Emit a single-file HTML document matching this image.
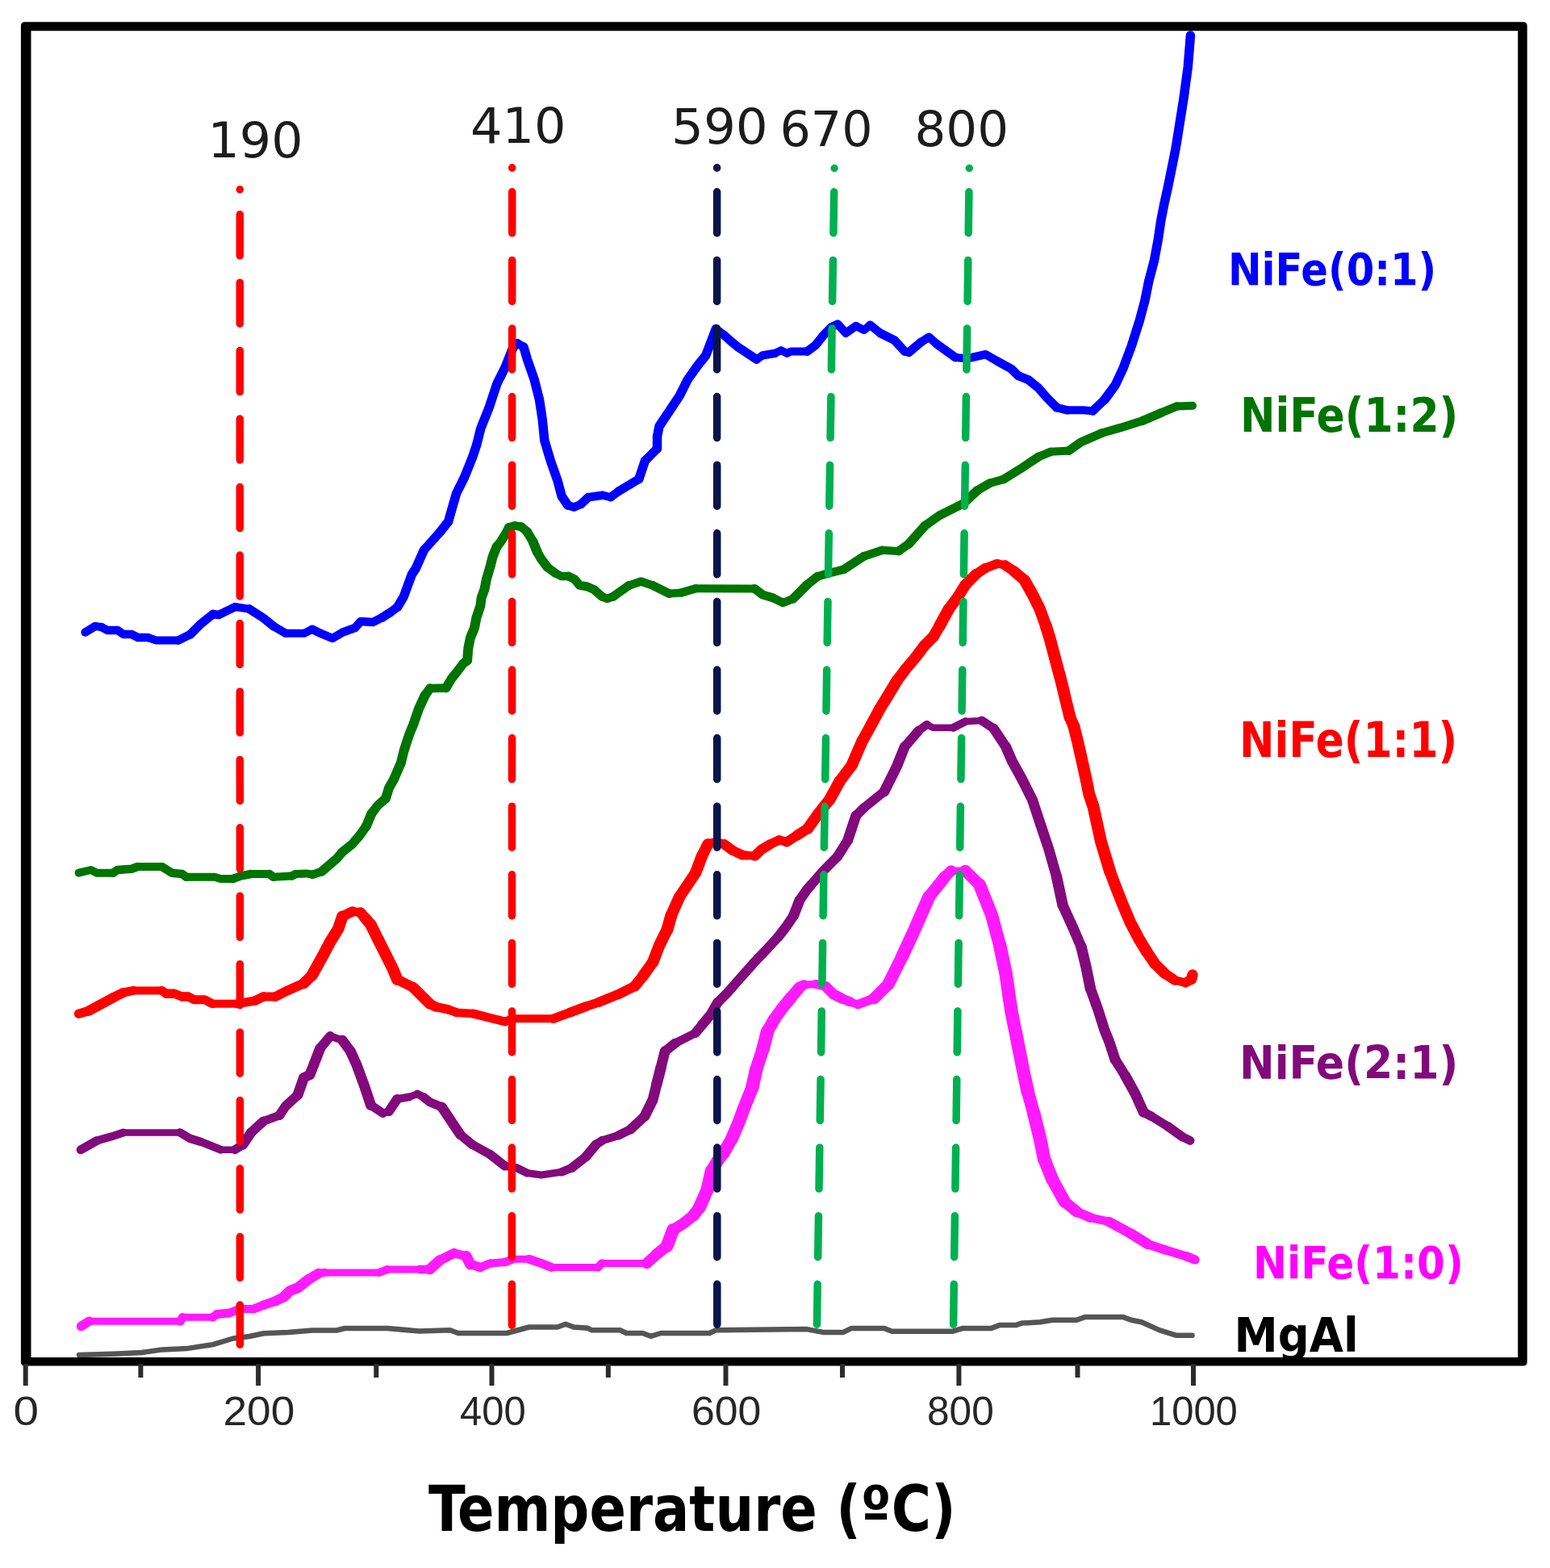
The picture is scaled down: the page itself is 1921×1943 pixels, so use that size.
<!DOCTYPE html>
<html><head><meta charset="utf-8"><title>TPR profiles</title>
<style>
html,body{margin:0;padding:0;background:#fff;}
body{width:1921px;height:1943px;overflow:hidden;}
svg{display:block;}
.tk{font-family:"Liberation Sans",Arial,sans-serif;}
.pk{font-family:"DejaVu Sans",sans-serif;font-stretch:condensed;}
.lg{font-family:"DejaVu Sans",sans-serif;font-stretch:condensed;font-weight:bold;}
.ti{font-family:"DejaVu Sans",sans-serif;font-stretch:condensed;font-weight:bold;}
</style></head><body>
<svg xmlns="http://www.w3.org/2000/svg" width="1921" height="1943" viewBox="0 0 1921 1943">
<rect width="1921" height="1943" fill="#fff"/>
<polyline points="98.0,1679.0 145.8,1677.4 175.9,1676.0 201.0,1672.4 231.2,1671.1 263.9,1666.1 289.0,1658.5 309.0,1656.0 326.7,1652.3 356.9,1651.0 387.0,1648.5 417.2,1648.5 427.2,1646.0 480.0,1646.0 520.0,1649.5 557.7,1648.3 567.8,1652.0 628.1,1652.0 655.7,1644.5 690.9,1644.5 701.0,1640.7 711.0,1644.5 728.6,1645.8 733.6,1648.3 768.8,1648.3 776.3,1652.0 796.5,1652.0 806.5,1655.8 819.1,1652.0 879.4,1652.0 886.9,1648.3 1000.0,1647.1 1020.1,1650.9 1045.2,1650.9 1055.3,1645.9 1095.5,1645.9 1105.6,1649.7 1181.0,1649.7 1193.5,1645.9 1228.7,1645.9 1238.8,1642.1 1258.9,1642.1 1266.4,1639.6 1289.0,1638.3 1304.1,1635.8 1334.3,1635.8 1344.3,1632.1 1392.1,1632.1 1402.1,1635.8 1414.7,1638.3 1437.3,1648.4 1457.4,1654.7 1477.5,1654.7" fill="none" stroke="#555555" stroke-width="6.5" stroke-linejoin="round" stroke-linecap="round"/>
<g fill="none" stroke="#ff1aff" stroke-linejoin="round" stroke-linecap="round">
<polyline points="100.5,1643.5 110.6,1637.2" stroke-width="11.5"/>
<polyline points="110.6,1637.2 223.7,1637.2" stroke-width="9.0"/>
<polyline points="223.7,1637.2 226.2,1632.2" stroke-width="10.5"/>
<polyline points="226.2,1632.2 263.9,1632.2" stroke-width="9.0"/>
<polyline points="263.9,1632.2 268.9,1628.4" stroke-width="10.5"/>
<polyline points="268.9,1628.4 284.0,1627.1" stroke-width="11.0"/>
<polyline points="284.0,1627.1 296.5,1622.1" stroke-width="10.5"/>
<polyline points="296.5,1622.1 314.1,1622.1" stroke-width="10.0"/>
<polyline points="314.1,1622.1 326.7,1617.1" stroke-width="11.0"/>
<polyline points="326.7,1617.1 341.8,1612.0" stroke-width="11.5"/>
<polyline points="341.8,1612.0 351.8,1607.0" stroke-width="12.5"/>
<polyline points="351.8,1607.0 359.4,1599.5 369.4,1595.7 382.0,1585.7" stroke-width="13.0"/>
<polyline points="382.0,1585.7 394.6,1578.1" stroke-width="12.5"/>
<polyline points="394.6,1578.1 402.1,1576.9" stroke-width="10.5"/>
<polyline points="402.1,1576.9 470.0,1576.9" stroke-width="9.0"/>
<polyline points="470.0,1576.9 480.0,1573.0" stroke-width="10.0"/>
<polyline points="480.0,1573.0 520.0,1572.9" stroke-width="9.0"/>
<polyline points="520.0,1572.9 532.6,1572.9" stroke-width="10.5"/>
<polyline points="532.6,1572.9 545.1,1561.6" stroke-width="13.0"/>
<polyline points="545.1,1561.6 562.7,1552.8" stroke-width="12.0"/>
<polyline points="562.7,1552.8 577.8,1556.6" stroke-width="11.0"/>
<polyline points="577.8,1556.6 582.8,1566.6" stroke-width="13.5"/>
<polyline points="582.8,1566.6 595.4,1570.4" stroke-width="11.5"/>
<polyline points="595.4,1570.4 608.0,1565.4" stroke-width="10.5"/>
<polyline points="608.0,1565.4 625.6,1564.1" stroke-width="10.0"/>
<polyline points="625.6,1564.1 635.6,1560.3" stroke-width="10.5"/>
<polyline points="635.6,1560.3 655.7,1560.3" stroke-width="9.0"/>
<polyline points="655.7,1560.3 670.8,1565.4 683.4,1570.4" stroke-width="11.0"/>
<polyline points="683.4,1570.4 741.2,1570.4" stroke-width="9.0"/>
<polyline points="741.2,1570.4 746.2,1565.4" stroke-width="10.5"/>
<polyline points="746.2,1565.4 801.5,1565.4" stroke-width="9.0"/>
<polyline points="801.5,1565.4 814.0,1554.0" stroke-width="13.5"/>
<polyline points="814.0,1554.0 826.6,1544.0" stroke-width="14.0"/>
<polyline points="826.6,1544.0 834.2,1523.9" stroke-width="16.0"/>
<polyline points="834.2,1523.9 846.7,1516.3 859.3,1506.3" stroke-width="14.0"/>
<polyline points="859.3,1506.3 866.8,1496.2" stroke-width="15.0"/>
<polyline points="866.8,1496.2 876.9,1473.6" stroke-width="16.0"/>
<polyline points="876.9,1473.6 881.9,1451.0" stroke-width="16.5"/>
<polyline points="881.9,1451.0 889.4,1438.4" stroke-width="15.5"/>
<polyline points="889.4,1438.4 897.0,1428.4" stroke-width="15.0"/>
<polyline points="897.0,1428.4 907.0,1410.8" stroke-width="15.5"/>
<polyline points="907.0,1410.8 914.6,1393.2 922.1,1373.1 932.2,1348.0" stroke-width="16.0"/>
<polyline points="932.2,1348.0 937.2,1325.3" stroke-width="16.5"/>
<polyline points="937.2,1325.3 945.5,1300.0" stroke-width="16.0"/>
<polyline points="945.5,1300.0 951.1,1278.0" stroke-width="16.5"/>
<polyline points="951.1,1278.0 959.5,1263.4" stroke-width="15.5"/>
<polyline points="959.5,1263.4 970.0,1248.7 980.4,1236.1" stroke-width="15.0"/>
<polyline points="980.4,1236.1 990.9,1223.6" stroke-width="14.5"/>
<polyline points="990.9,1223.6 996.1,1220.4" stroke-width="12.5"/>
<polyline points="996.1,1220.4 1010.8,1219.4" stroke-width="9.5"/>
<polyline points="1010.8,1219.4 1023.4,1222.5" stroke-width="11.0"/>
<polyline points="1023.4,1222.5 1032.8,1231.9 1043.2,1237.2" stroke-width="13.0"/>
<polyline points="1043.2,1237.2 1053.7,1241.4" stroke-width="12.0"/>
<polyline points="1053.7,1241.4 1063.3,1244.7" stroke-width="10.0"/>
<polyline points="1063.3,1244.7 1083.4,1237.2" stroke-width="11.5"/>
<polyline points="1083.4,1237.2 1101.0,1219.6" stroke-width="14.5"/>
<polyline points="1101.0,1219.6 1118.5,1184.4" stroke-width="15.5"/>
<polyline points="1118.5,1184.4 1133.6,1151.7 1151.2,1111.5" stroke-width="16.0"/>
<polyline points="1151.2,1111.5 1171.3,1086.4" stroke-width="15.0"/>
<polyline points="1171.3,1086.4 1178.9,1078.9" stroke-width="13.5"/>
<polyline points="1178.9,1078.9 1196.4,1078.9" stroke-width="9.0"/>
<polyline points="1196.4,1078.9 1214.0,1096.4" stroke-width="14.5"/>
<polyline points="1214.0,1096.4 1229.1,1134.1 1239.2,1171.8" stroke-width="16.0"/>
<polyline points="1239.2,1171.8 1246.7,1207.0 1251.0,1237.0 1253.8,1255.1 1258.9,1280.2 1263.9,1305.3 1268.9,1330.5 1273.9,1353.1" stroke-width="16.5"/>
<polyline points="1273.9,1353.1 1281.5,1380.7" stroke-width="16.0"/>
<polyline points="1281.5,1380.7 1289.0,1410.9 1294.0,1436.0" stroke-width="16.5"/>
<polyline points="1294.0,1436.0 1304.1,1461.2" stroke-width="16.0"/>
<polyline points="1304.1,1461.2 1319.2,1488.8" stroke-width="15.5"/>
<polyline points="1319.2,1488.8 1334.3,1501.4" stroke-width="14.0"/>
<polyline points="1334.3,1501.4 1351.8,1508.9" stroke-width="12.0"/>
<polyline points="1351.8,1508.9 1374.5,1513.9" stroke-width="10.5"/>
<polyline points="1374.5,1513.9 1402.1,1529.0" stroke-width="12.5"/>
<polyline points="1402.1,1529.0 1422.2,1541.6" stroke-width="13.0"/>
<polyline points="1422.2,1541.6 1444.8,1549.1" stroke-width="11.5"/>
<polyline points="1444.8,1549.1 1470.0,1556.7" stroke-width="11.0"/>
<polyline points="1470.0,1556.7 1481.0,1561.0" stroke-width="11.5"/>
</g>
<g fill="none" stroke="#820a7c" stroke-linejoin="round" stroke-linecap="round">
<polyline points="100.1,1424.7 120.2,1413.4" stroke-width="11.0"/>
<polyline points="120.2,1413.4 137.8,1408.4 152.9,1403.4" stroke-width="10.0"/>
<polyline points="152.9,1403.4 223.3,1403.4" stroke-width="8.5"/>
<polyline points="223.3,1403.4 235.8,1410.9 248.4,1414.7" stroke-width="10.5"/>
<polyline points="248.4,1414.7 261.0,1419.7 273.5,1424.7" stroke-width="10.0"/>
<polyline points="273.5,1424.7 291.1,1424.7" stroke-width="8.5"/>
<polyline points="291.1,1424.7 301.2,1418.4" stroke-width="11.0"/>
<polyline points="301.2,1418.4 311.2,1403.4" stroke-width="12.5"/>
<polyline points="311.2,1403.4 326.3,1389.5" stroke-width="12.0"/>
<polyline points="326.3,1389.5 346.4,1382.0" stroke-width="10.5"/>
<polyline points="346.4,1382.0 353.9,1370.7 369.0,1356.9" stroke-width="12.0"/>
<polyline points="369.0,1356.9 376.5,1335.5" stroke-width="13.0"/>
<polyline points="376.5,1335.5 384.1,1331.7" stroke-width="12.5"/>
<polyline points="384.1,1331.7 396.7,1299.1" stroke-width="13.0"/>
<polyline points="396.7,1299.1 409.2,1284.0" stroke-width="12.0"/>
<polyline points="409.2,1284.0 424.3,1289.0" stroke-width="9.5"/>
<polyline points="424.3,1289.0 434.4,1302.8" stroke-width="12.5"/>
<polyline points="434.4,1302.8 441.9,1319.2 452.0,1346.8 459.5,1369.4" stroke-width="13.0"/>
<polyline points="459.5,1369.4 474.6,1379.5" stroke-width="11.0"/>
<polyline points="474.6,1379.5 482.1,1377.0" stroke-width="9.5"/>
<polyline points="482.1,1377.0 492.2,1361.9" stroke-width="12.0"/>
<polyline points="492.2,1361.9 507.2,1359.4" stroke-width="10.0"/>
<polyline points="507.2,1359.4 517.3,1355.6" stroke-width="9.0"/>
<polyline points="517.3,1355.6 524.8,1359.4" stroke-width="10.0"/>
<polyline points="524.8,1359.4 532.6,1365.6 547.6,1371.8" stroke-width="11.0"/>
<polyline points="547.6,1371.8 560.2,1390.7 570.3,1405.8" stroke-width="12.5"/>
<polyline points="570.3,1405.8 585.3,1418.3" stroke-width="11.5"/>
<polyline points="585.3,1418.3 608.0,1430.9" stroke-width="11.0"/>
<polyline points="608.0,1430.9 625.6,1444.7" stroke-width="11.5"/>
<polyline points="625.6,1444.7 640.6,1447.2 653.2,1453.5" stroke-width="10.0"/>
<polyline points="653.2,1453.5 670.8,1456.0 695.9,1452.3" stroke-width="9.0"/>
<polyline points="695.9,1452.3 708.5,1447.2" stroke-width="10.5"/>
<polyline points="708.5,1447.2 726.1,1433.4" stroke-width="11.5"/>
<polyline points="726.1,1433.4 738.6,1418.3" stroke-width="12.0"/>
<polyline points="738.6,1418.3 746.2,1413.3" stroke-width="11.0"/>
<polyline points="746.2,1413.3 766.3,1407.0" stroke-width="10.0"/>
<polyline points="766.3,1407.0 781.4,1399.5" stroke-width="11.0"/>
<polyline points="781.4,1399.5 799.0,1383.1" stroke-width="12.0"/>
<polyline points="799.0,1383.1 809.0,1363.0 814.0,1342.9" stroke-width="13.0"/>
<polyline points="814.0,1342.9 819.1,1322.8" stroke-width="13.5"/>
<polyline points="819.1,1322.8 824.1,1302.7" stroke-width="13.0"/>
<polyline points="824.1,1302.7 836.7,1292.7" stroke-width="12.0"/>
<polyline points="836.7,1292.7 861.8,1280.1" stroke-width="10.5"/>
<polyline points="861.8,1280.1 870.5,1269.6" stroke-width="12.0"/>
<polyline points="870.5,1269.6 880.9,1257.1 889.3,1242.4" stroke-width="12.5"/>
<polyline points="889.3,1242.4 901.9,1229.8 916.5,1213.1 933.3,1194.2 952.1,1174.3 964.7,1160.7" stroke-width="12.0"/>
<polyline points="964.7,1160.7 975.2,1147.1 983.6,1134.6" stroke-width="12.5"/>
<polyline points="983.6,1134.6 990.9,1115.7" stroke-width="13.0"/>
<polyline points="990.9,1115.7 1000.3,1102.1 1005.4,1096.4" stroke-width="12.5"/>
<polyline points="1005.4,1096.4 1020.5,1078.9 1038.1,1061.3" stroke-width="12.0"/>
<polyline points="1038.1,1061.3 1050.7,1041.2" stroke-width="12.5"/>
<polyline points="1050.7,1041.2 1060.7,1011.0" stroke-width="13.0"/>
<polyline points="1060.7,1011.0 1070.8,1001.0" stroke-width="12.0"/>
<polyline points="1070.8,1001.0 1095.9,980.8" stroke-width="11.5"/>
<polyline points="1095.9,980.8 1111.0,950.7 1121.1,925.6" stroke-width="13.0"/>
<polyline points="1121.1,925.6 1138.6,905.4" stroke-width="12.0"/>
<polyline points="1138.6,905.4 1148.7,897.9" stroke-width="10.5"/>
<polyline points="1148.7,897.9 1156.2,901.7 1181.4,901.7" stroke-width="8.5"/>
<polyline points="1181.4,901.7 1196.4,894.1" stroke-width="10.0"/>
<polyline points="1196.4,894.1 1216.6,892.9" stroke-width="8.5"/>
<polyline points="1216.6,892.9 1231.6,902.9" stroke-width="11.0"/>
<polyline points="1231.6,902.9 1246.7,925.6" stroke-width="12.5"/>
<polyline points="1246.7,925.6 1254.3,943.1 1266.8,965.8 1279.4,990.9 1289.4,1021.1 1299.5,1051.2 1309.5,1086.4" stroke-width="13.0"/>
<polyline points="1309.5,1086.4 1317.1,1121.6" stroke-width="13.5"/>
<polyline points="1317.1,1121.6 1330.0,1150.0 1340.0,1173.2" stroke-width="13.0"/>
<polyline points="1340.0,1173.2 1346.2,1199.0 1351.4,1224.9" stroke-width="13.5"/>
<polyline points="1351.4,1224.9 1360.7,1250.8 1369.0,1276.7 1374.5,1290.3 1382.0,1312.9" stroke-width="13.0"/>
<polyline points="1382.0,1312.9 1394.6,1333.0" stroke-width="12.5"/>
<polyline points="1394.6,1333.0 1407.1,1355.6 1417.2,1378.2" stroke-width="13.0"/>
<polyline points="1417.2,1378.2 1427.2,1383.3" stroke-width="11.5"/>
<polyline points="1427.2,1383.3 1447.3,1395.8" stroke-width="11.0"/>
<polyline points="1447.3,1395.8 1464.9,1408.4" stroke-width="11.5"/>
<polyline points="1464.9,1408.4 1475.0,1413.4" stroke-width="11.0"/>
</g>
<g fill="none" stroke="#ff0000" stroke-linejoin="round" stroke-linecap="round">
<polyline points="97.6,1256.3 110.2,1252.6" stroke-width="11.5"/>
<polyline points="110.2,1252.6 140.3,1236.2" stroke-width="12.5"/>
<polyline points="140.3,1236.2 152.9,1230.0" stroke-width="12.0"/>
<polyline points="152.9,1230.0 165.4,1227.4" stroke-width="11.0"/>
<polyline points="165.4,1227.4 200.6,1227.4" stroke-width="10.0"/>
<polyline points="200.6,1227.4 205.7,1231.2" stroke-width="11.0"/>
<polyline points="205.7,1231.2 215.7,1231.2" stroke-width="11.5"/>
<polyline points="215.7,1231.2 225.8,1235.0" stroke-width="11.0"/>
<polyline points="225.8,1235.0 233.3,1235.0" stroke-width="11.5"/>
<polyline points="233.3,1235.0 240.8,1238.7 253.4,1238.7 263.5,1243.8" stroke-width="11.0"/>
<polyline points="263.5,1243.8 293.6,1243.8" stroke-width="10.0"/>
<polyline points="293.6,1243.8 316.2,1240.0" stroke-width="11.0"/>
<polyline points="316.2,1240.0 326.3,1235.0" stroke-width="11.5"/>
<polyline points="326.3,1235.0 341.4,1235.0" stroke-width="11.0"/>
<polyline points="341.4,1235.0 356.4,1227.4 376.5,1218.6" stroke-width="12.0"/>
<polyline points="376.5,1218.6 386.6,1208.6" stroke-width="13.5"/>
<polyline points="386.6,1208.6 399.2,1186.0 409.2,1167.1 419.3,1150.8 424.3,1135.7" stroke-width="14.5"/>
<polyline points="424.3,1135.7 436.9,1129.4" stroke-width="12.5"/>
<polyline points="436.9,1129.4 446.9,1130.7" stroke-width="11.0"/>
<polyline points="446.9,1130.7 452.0,1137.0" stroke-width="13.0"/>
<polyline points="452.0,1137.0 459.5,1145.8" stroke-width="14.0"/>
<polyline points="459.5,1145.8 469.5,1165.9 477.1,1181.0 487.1,1201.0 492.2,1213.6" stroke-width="14.5"/>
<polyline points="492.2,1213.6 512.3,1223.7" stroke-width="12.5"/>
<polyline points="512.3,1223.7 532.4,1243.8" stroke-width="13.5"/>
<polyline points="532.4,1243.8 539.9,1247.5" stroke-width="12.5"/>
<polyline points="539.9,1247.5 555.6,1250.9" stroke-width="11.5"/>
<polyline points="555.6,1250.9 565.7,1254.7" stroke-width="11.0"/>
<polyline points="565.7,1254.7 585.8,1255.9" stroke-width="10.5"/>
<polyline points="585.8,1255.9 595.8,1258.4 605.9,1261.0 626.0,1266.0" stroke-width="11.0"/>
<polyline points="626.0,1266.0 636.0,1262.2" stroke-width="10.5"/>
<polyline points="636.0,1262.2 686.3,1262.2" stroke-width="10.0"/>
<polyline points="686.3,1262.2 706.4,1254.7" stroke-width="11.5"/>
<polyline points="706.4,1254.7 726.5,1247.1" stroke-width="12.0"/>
<polyline points="726.5,1247.1 741.6,1242.1" stroke-width="11.5"/>
<polyline points="741.6,1242.1 766.7,1232.0" stroke-width="12.0"/>
<polyline points="766.7,1232.0 786.8,1222.0" stroke-width="12.5"/>
<polyline points="786.8,1222.0 796.9,1209.4" stroke-width="13.5"/>
<polyline points="796.9,1209.4 809.4,1191.8" stroke-width="14.0"/>
<polyline points="809.4,1191.8 817.0,1171.7 827.0,1151.6" stroke-width="14.5"/>
<polyline points="827.0,1151.6 832.0,1134.0" stroke-width="15.0"/>
<polyline points="832.0,1134.0 842.1,1111.4" stroke-width="14.5"/>
<polyline points="842.1,1111.4 852.2,1096.3 862.2,1081.3" stroke-width="14.0"/>
<polyline points="862.2,1081.3 869.8,1061.2" stroke-width="14.5"/>
<polyline points="869.8,1061.2 877.3,1046.1" stroke-width="14.0"/>
<polyline points="877.3,1046.1 887.3,1043.6" stroke-width="11.5"/>
<polyline points="887.3,1043.6 897.4,1046.1" stroke-width="11.0"/>
<polyline points="897.4,1046.1 907.5,1053.6" stroke-width="12.5"/>
<polyline points="907.5,1053.6 920.0,1059.5" stroke-width="12.0"/>
<polyline points="920.0,1059.5 925.2,1059.9" stroke-width="11.0"/>
<polyline points="925.2,1059.9 935.7,1060.4" stroke-width="10.5"/>
<polyline points="935.7,1060.4 943.6,1052.8 954.0,1046.5" stroke-width="12.5"/>
<polyline points="954.0,1046.5 965.5,1040.8" stroke-width="11.5"/>
<polyline points="965.5,1040.8 975.0,1043.4" stroke-width="11.0"/>
<polyline points="975.0,1043.4 988.1,1035.0" stroke-width="12.0"/>
<polyline points="988.1,1035.0 1001.2,1026.6" stroke-width="13.0"/>
<polyline points="1001.2,1026.6 1014.2,1008.3 1028.1,990.9" stroke-width="14.0"/>
<polyline points="1028.1,990.9 1040.6,968.3" stroke-width="14.5"/>
<polyline points="1040.6,968.3 1055.7,948.2" stroke-width="14.0"/>
<polyline points="1055.7,948.2 1068.3,918.9 1077.7,902.0 1090.9,877.5 1100.3,862.4 1111.6,843.5" stroke-width="14.5"/>
<polyline points="1111.6,843.5 1122.9,828.5 1134.2,815.3 1145.5,800.2 1156.8,788.9 1164.4,775.7" stroke-width="14.0"/>
<polyline points="1164.4,775.7 1175.7,755.0" stroke-width="14.5"/>
<polyline points="1175.7,755.0 1187.0,739.9 1196.4,724.8" stroke-width="14.0"/>
<polyline points="1196.4,724.8 1209.6,711.6" stroke-width="13.5"/>
<polyline points="1209.6,711.6 1220.9,704.1" stroke-width="12.5"/>
<polyline points="1220.9,704.1 1236.0,698.4" stroke-width="11.5"/>
<polyline points="1236.0,698.4 1245.4,700.3" stroke-width="10.5"/>
<polyline points="1245.4,700.3 1256.7,707.8" stroke-width="12.5"/>
<polyline points="1256.7,707.8 1269.9,719.2" stroke-width="13.5"/>
<polyline points="1269.9,719.2 1279.4,736.1 1288.8,755.0 1296.3,775.7" stroke-width="14.5"/>
<polyline points="1296.3,775.7 1301.0,790.8 1306.0,809.6 1311.0,828.5 1316.0,847.3 1320.5,866.2 1326.0,888.8" stroke-width="15.0"/>
<polyline points="1326.0,888.8 1330.9,900.0" stroke-width="14.5"/>
<polyline points="1330.9,900.0 1336.1,920.9 1340.8,941.9 1345.5,962.8 1349.7,983.8 1355.0,999.5 1364.5,1042.8 1375.7,1080.0" stroke-width="15.0"/>
<polyline points="1375.7,1080.0 1383.6,1100.9 1391.9,1121.9 1400.8,1142.8 1411.8,1163.8 1421.3,1179.5" stroke-width="14.5"/>
<polyline points="1421.3,1179.5 1431.1,1193.9" stroke-width="14.0"/>
<polyline points="1431.1,1193.9 1443.5,1206.3" stroke-width="13.5"/>
<polyline points="1443.5,1206.3 1455.9,1214.6" stroke-width="12.5"/>
<polyline points="1455.9,1214.6 1469.4,1217.7" stroke-width="10.5"/>
<polyline points="1469.4,1217.7 1476.5,1213.5" stroke-width="12.0"/>
<polyline points="1476.5,1213.5 1478.0,1208.0" stroke-width="13.5"/>
</g>
<g fill="none" stroke="#007400" stroke-linejoin="round" stroke-linecap="round">
<polyline points="97.6,1081.7 112.7,1078.0 120.2,1081.7 140.3,1081.7" stroke-width="10.0"/>
<polyline points="140.3,1081.7 145.3,1078.0 163.0,1076.7 170.5,1074.0" stroke-width="10.5"/>
<polyline points="170.5,1074.0 200.6,1074.0" stroke-width="10.0"/>
<polyline points="200.6,1074.0 213.2,1081.7 225.8,1083.0 230.8,1086.7" stroke-width="10.5"/>
<polyline points="230.8,1086.7 266.0,1086.7 273.5,1089.0 288.6,1089.0" stroke-width="10.0"/>
<polyline points="288.6,1089.0 298.6,1085.4 311.2,1083.0" stroke-width="10.5"/>
<polyline points="311.2,1083.0 333.8,1083.0" stroke-width="10.0"/>
<polyline points="333.8,1083.0 338.9,1086.7" stroke-width="10.5"/>
<polyline points="338.9,1086.7 361.5,1085.4" stroke-width="10.0"/>
<polyline points="361.5,1085.4 366.5,1083.0" stroke-width="10.5"/>
<polyline points="366.5,1083.0 380.0,1082.4 387.5,1083.7" stroke-width="10.0"/>
<polyline points="387.5,1083.7 398.8,1079.9" stroke-width="10.5"/>
<polyline points="398.8,1079.9 417.7,1063.6 424.0,1056.0 436.5,1046.0 445.3,1035.9 454.1,1023.4" stroke-width="11.5"/>
<polyline points="454.1,1023.4 460.4,1008.3" stroke-width="12.0"/>
<polyline points="460.4,1008.3 468.0,998.2 478.0,989.4" stroke-width="11.5"/>
<polyline points="478.0,989.4 481.8,976.9 488.1,965.6 493.1,954.2 496.9,945.4 500.6,930.4 504.1,919.5 508.0,908.0 512.0,898.5 519.3,877.6 526.6,861.9" stroke-width="12.0"/>
<polyline points="526.6,861.9 532.9,853.0" stroke-width="11.5"/>
<polyline points="532.9,853.0 552.8,852.5" stroke-width="10.5"/>
<polyline points="552.8,852.5 559.6,840.9 565.9,833.1 573.8,822.6 579.1,818.4" stroke-width="11.5"/>
<polyline points="579.1,818.4 580.3,803.4 582.8,790.8 587.9,778.2 590.4,765.7 595.4,750.6 596.7,740.5 600.4,730.5 602.9,717.9 608.0,700.3 610.5,690.3 615.5,677.7" stroke-width="12.0"/>
<polyline points="615.5,677.7 620.5,671.4 626.8,661.4 630.6,653.8" stroke-width="11.5"/>
<polyline points="630.6,653.8 638.0,651.5" stroke-width="11.0"/>
<polyline points="638.0,651.5 645.7,652.6" stroke-width="10.5"/>
<polyline points="645.7,652.6 653.2,658.8" stroke-width="11.0"/>
<polyline points="653.2,658.8 660.7,671.4" stroke-width="11.5"/>
<polyline points="660.7,671.4 665.8,684.0" stroke-width="12.0"/>
<polyline points="665.8,684.0 670.8,692.8 678.3,702.8" stroke-width="11.5"/>
<polyline points="678.3,702.8 688.4,710.4" stroke-width="11.0"/>
<polyline points="688.4,710.4 695.9,714.1 704.7,714.1" stroke-width="10.5"/>
<polyline points="704.7,714.1 712.3,717.9 718.5,725.4 727.3,726.7 736.1,730.5 746.2,739.3" stroke-width="11.0"/>
<polyline points="746.2,739.3 752.5,741.8 760.0,739.3" stroke-width="10.5"/>
<polyline points="760.0,739.3 766.7,734.4 779.3,725.6" stroke-width="11.0"/>
<polyline points="779.3,725.6 794.4,720.5 809.4,725.6" stroke-width="10.5"/>
<polyline points="809.4,725.6 829.5,735.6" stroke-width="11.0"/>
<polyline points="829.5,735.6 844.6,734.4" stroke-width="10.0"/>
<polyline points="844.6,734.4 862.2,729.3" stroke-width="10.5"/>
<polyline points="862.2,729.3 935.2,729.4" stroke-width="10.0"/>
<polyline points="935.2,729.4 945.2,737.0 957.8,740.7" stroke-width="11.0"/>
<polyline points="957.8,740.7 970.4,747.0 982.9,742.0" stroke-width="10.5"/>
<polyline points="982.9,742.0 1000.5,724.4" stroke-width="11.5"/>
<polyline points="1000.5,724.4 1013.1,714.4" stroke-width="11.0"/>
<polyline points="1013.1,714.4 1025.7,710.6 1045.8,705.6" stroke-width="10.5"/>
<polyline points="1045.8,705.6 1070.9,689.2" stroke-width="11.0"/>
<polyline points="1070.9,689.2 1093.5,681.7" stroke-width="10.5"/>
<polyline points="1093.5,681.7 1113.6,682.9" stroke-width="10.0"/>
<polyline points="1113.6,682.9 1126.2,674.1" stroke-width="11.0"/>
<polyline points="1126.2,674.1 1146.3,651.5" stroke-width="11.5"/>
<polyline points="1146.3,651.5 1163.9,639.0 1194.0,623.9" stroke-width="11.0"/>
<polyline points="1194.0,623.9 1211.6,607.5" stroke-width="11.5"/>
<polyline points="1211.6,607.5 1226.7,598.8" stroke-width="11.0"/>
<polyline points="1226.7,598.8 1244.3,593.7" stroke-width="10.5"/>
<polyline points="1244.3,593.7 1264.4,581.2 1287.0,566.1" stroke-width="11.0"/>
<polyline points="1287.0,566.1 1302.1,559.8" stroke-width="10.5"/>
<polyline points="1302.1,559.8 1324.7,558.5" stroke-width="10.0"/>
<polyline points="1324.7,558.5 1339.4,548.0 1365.9,536.5" stroke-width="11.0"/>
<polyline points="1365.9,536.5 1389.0,529.9 1415.6,521.6" stroke-width="10.5"/>
<polyline points="1415.6,521.6 1438.8,511.6" stroke-width="11.0"/>
<polyline points="1438.8,511.6 1458.6,503.4" stroke-width="10.5"/>
<polyline points="1458.6,503.4 1478.0,502.8" stroke-width="10.0"/>
</g>
<g fill="none" stroke="#0000ff" stroke-linejoin="round" stroke-linecap="round">
<polyline points="105.6,783.5 118.0,776.0" stroke-width="10.5"/>
<polyline points="118.0,776.0 125.7,777.0" stroke-width="10.0"/>
<polyline points="125.7,777.0 133.0,781.0 145.8,781.0 153.0,786.0 163.0,786.0 171.0,790.0 183.5,790.0" stroke-width="10.5"/>
<polyline points="183.5,790.0 193.5,793.5 221.0,793.5" stroke-width="10.0"/>
<polyline points="221.0,793.5 236.0,786.0" stroke-width="10.5"/>
<polyline points="236.0,786.0 249.0,773.0 264.0,761.0" stroke-width="11.0"/>
<polyline points="264.0,761.0 271.0,762.0 291.5,752.0" stroke-width="10.5"/>
<polyline points="291.5,752.0 309.0,754.6" stroke-width="10.0"/>
<polyline points="309.0,754.6 326.7,766.0 339.0,776.0" stroke-width="11.0"/>
<polyline points="339.0,776.0 354.0,784.7" stroke-width="10.5"/>
<polyline points="354.0,784.7 377.0,784.7 387.0,779.7" stroke-width="10.0"/>
<polyline points="387.0,779.7 397.0,784.7 412.0,791.0 424.7,783.5 440.0,778.0 447.0,770.0 462.0,771.0 474.0,765.0" stroke-width="10.5"/>
<polyline points="474.0,765.0 485.0,758.0 492.8,752.0" stroke-width="11.0"/>
<polyline points="492.8,752.0 500.3,739.4 510.4,711.7 515.4,704.2 525.4,681.6" stroke-width="11.5"/>
<polyline points="525.4,681.6 545.6,659.0" stroke-width="11.0"/>
<polyline points="545.6,659.0 555.6,646.4 560.6,628.8 565.7,611.2 575.7,591.1 585.8,566.0 590.8,550.9 595.8,530.8 605.9,505.7 615.9,475.5 626.0,455.4 636.0,430.3" stroke-width="11.5"/>
<polyline points="636.0,430.3 641.0,425.2" stroke-width="11.0"/>
<polyline points="641.0,425.2 649.0,430.0" stroke-width="10.5"/>
<polyline points="649.0,430.0 653.4,445.1 662.2,470.3 668.5,495.4 672.3,520.5 674.8,545.7 682.3,570.8 691.1,595.9 696.1,614.8 703.7,626.1" stroke-width="11.5"/>
<polyline points="703.7,626.1 711.2,628.6 720.0,624.8" stroke-width="10.5"/>
<polyline points="720.0,624.8 729.0,616.2" stroke-width="11.0"/>
<polyline points="729.0,616.2 746.6,613.7" stroke-width="10.5"/>
<polyline points="746.6,613.7 756.7,616.2" stroke-width="10.0"/>
<polyline points="756.7,616.2 766.7,608.7" stroke-width="10.5"/>
<polyline points="766.7,608.7 791.8,593.6" stroke-width="11.0"/>
<polyline points="791.8,593.6 799.4,571.0" stroke-width="11.5"/>
<polyline points="799.4,571.0 814.5,555.9" stroke-width="11.0"/>
<polyline points="814.5,555.9 814.5,540.8 817.0,528.3 832.0,505.7 842.1,490.6 852.2,470.5 864.7,452.9 874.8,440.3 887.3,407.6" stroke-width="11.5"/>
<polyline points="887.3,407.6 897.4,415.2" stroke-width="10.5"/>
<polyline points="897.4,415.2 906.0,423.0 915.1,430.4 937.7,445.4" stroke-width="11.0"/>
<polyline points="937.7,445.4 945.2,440.4" stroke-width="10.0"/>
<polyline points="945.2,440.4 960.3,437.9" stroke-width="10.5"/>
<polyline points="960.3,437.9 967.9,434.1 975.4,437.9 980.4,435.4 1000.5,435.4" stroke-width="10.0"/>
<polyline points="1000.5,435.4 1010.6,427.9 1020.6,415.3 1030.7,405.2" stroke-width="11.0"/>
<polyline points="1030.7,405.2 1038.2,401.5 1048.3,412.8 1060.8,404.0" stroke-width="10.5"/>
<polyline points="1060.8,404.0 1070.9,409.0 1078.4,402.7" stroke-width="10.0"/>
<polyline points="1078.4,402.7 1091.0,412.8" stroke-width="10.5"/>
<polyline points="1091.0,412.8 1108.6,421.6 1121.2,435.4" stroke-width="11.0"/>
<polyline points="1121.2,435.4 1126.2,436.7" stroke-width="10.0"/>
<polyline points="1126.2,436.7 1141.3,424.1" stroke-width="11.0"/>
<polyline points="1141.3,424.1 1151.3,417.8 1161.4,426.6" stroke-width="10.5"/>
<polyline points="1161.4,426.6 1184.0,442.9" stroke-width="11.0"/>
<polyline points="1184.0,442.9 1199.1,444.2" stroke-width="10.0"/>
<polyline points="1199.1,444.2 1221.7,439.2 1236.8,448.0" stroke-width="10.5"/>
<polyline points="1236.8,448.0 1253.2,457.0 1261.9,465.6 1274.5,470.6 1286.4,480.2 1298.0,493.4 1309.6,505.0" stroke-width="11.0"/>
<polyline points="1309.6,505.0 1322.8,508.3" stroke-width="10.5"/>
<polyline points="1322.8,508.3 1342.7,508.3 1354.3,509.2" stroke-width="10.0"/>
<polyline points="1354.3,509.2 1369.2,495.0" stroke-width="11.0"/>
<polyline points="1369.2,495.0 1382.4,476.8 1392.4,455.3 1402.3,428.8 1412.3,397.3 1418.9,372.5 1423.9,347.7 1430.5,322.8 1435.4,296.3 1438.8,273.1 1443.0,252.0 1447.1,233.6 1452.2,208.5 1457.2,183.4 1462.2,152.0 1467.2,120.5 1472.3,82.8 1475.4,44.0" stroke-width="11.5"/>
</g>
<path d="M297.3 234.8L297.3 234.8M297.3 265.8L297.3 316.8M297.3 350.2L297.3 401.2M297.3 434.6L297.3 485.6M297.3 519.1L297.3 570.1M297.3 603.6L297.3 654.6M297.3 688.0L297.3 739.0M297.3 772.5L297.3 823.5M297.3 856.9L297.3 907.9M297.3 941.4L297.4 992.4M297.4 1025.8L297.4 1076.8M297.4 1110.3L297.4 1161.3M297.4 1194.7L297.4 1245.7M297.4 1279.2L297.4 1330.2M297.4 1363.6L297.4 1414.6M297.4 1448.1L297.4 1499.1M297.4 1532.5L297.4 1583.5M297.4 1617.0L297.4 1666.2" stroke="#ff0000" stroke-width="9.5" stroke-linecap="round" fill="none"/>
<path d="M634.7 207.8L634.7 208.2M634.7 237.8L634.7 288.8M634.7 322.4L634.7 373.4M634.7 407.0L634.6 458.0M634.6 491.6L634.6 542.6M634.6 576.2L634.6 627.2M634.6 660.8L634.6 711.8M634.6 745.4L634.6 796.4M634.6 830.0L634.6 881.0M634.6 914.6L634.5 965.6M634.5 999.2L634.5 1050.2M634.5 1083.8L634.5 1134.8M634.5 1168.4L634.5 1219.4M634.5 1253.0L634.5 1304.0M634.5 1337.5L634.5 1388.5M634.4 1422.1L634.4 1473.1M634.4 1506.7L634.4 1557.7M634.4 1591.3L634.4 1642.2" stroke="#ff0000" stroke-width="9.5" stroke-linecap="round" fill="none"/>
<path d="M888.6 207.8L888.6 208.2M888.6 237.8L888.6 288.8M888.6 322.4L888.6 373.4M888.6 407.0L888.6 458.0M888.6 491.6L888.6 542.6M888.7 576.2L888.7 627.2M888.7 660.8L888.7 711.8M888.7 745.4L888.7 796.4M888.7 830.0L888.7 881.0M888.7 914.6L888.7 965.6M888.7 999.2L888.7 1050.2M888.7 1083.8L888.7 1134.8M888.7 1168.4L888.7 1219.4M888.7 1253.0L888.8 1304.0M888.8 1337.5L888.8 1388.5M888.8 1422.1L888.8 1473.1M888.8 1506.7L888.8 1557.7M888.8 1591.3L888.8 1641.2" stroke="#0a1448" stroke-width="9.5" stroke-linecap="round" fill="none"/>
<path d="M1034.1 208.5L1034.1 208.5M1033.7 237.8L1032.9 288.8M1032.4 322.4L1031.6 373.4M1031.1 407.0L1030.4 458.0M1029.9 491.6L1029.1 542.6M1028.6 576.2L1027.8 627.2M1027.3 660.8L1026.5 711.8M1026.0 745.4L1025.2 796.4M1024.7 830.0L1024.0 881.0M1023.5 914.6L1022.7 965.6M1022.2 999.2L1021.4 1050.2M1020.9 1083.8L1020.1 1134.8M1019.6 1168.4L1018.9 1219.4M1018.3 1253.0L1017.6 1304.0M1017.1 1337.5L1016.3 1388.5M1015.8 1422.1L1015.0 1473.1M1014.5 1506.7L1013.7 1557.7M1013.2 1591.3L1012.5 1641.2" stroke="#00b050" stroke-width="9.5" stroke-linecap="round" fill="none"/>
<path d="M1201.3 208.5L1201.3 208.5M1200.9 237.8L1200.2 288.8M1199.8 322.4L1199.1 373.4M1198.6 407.0L1197.9 458.0M1197.4 491.6L1196.7 542.6M1196.3 576.2L1195.6 627.2M1195.1 660.8L1194.4 711.8M1193.9 745.4L1193.2 796.4M1192.8 830.0L1192.1 881.0M1191.6 914.6L1190.9 965.6M1190.4 999.2L1189.7 1050.2M1189.3 1083.8L1188.6 1134.8M1188.1 1168.4L1187.4 1219.4M1186.9 1253.0L1186.2 1304.0M1185.8 1337.5L1185.1 1388.5M1184.6 1422.1L1183.9 1473.1M1183.4 1506.7L1182.7 1557.7M1182.3 1591.3L1181.6 1641.2" stroke="#00b050" stroke-width="9.5" stroke-linecap="round" fill="none"/>
<path fill="#000" fill-rule="evenodd" d="M30.9 27.3H1887.7Q1892.7 27.3 1892.7 32.3V1687.6Q1892.7 1692.6 1887.7 1692.6H30.9Q25.9 1692.6 25.9 1687.6V32.3Q25.9 27.3 30.9 27.3Z M38.5 38.2H1881.2V1682.0H38.5Z"/>
<line x1="31.7" y1="1690" x2="31.7" y2="1717" stroke="#2b2b2b" stroke-width="6"/>
<line x1="174.4" y1="1690" x2="174.4" y2="1707" stroke="#2b2b2b" stroke-width="6"/>
<line x1="320.1" y1="1690" x2="320.1" y2="1717" stroke="#2b2b2b" stroke-width="6"/>
<line x1="466.3" y1="1690" x2="466.3" y2="1707" stroke="#2b2b2b" stroke-width="6"/>
<line x1="609.5" y1="1690" x2="609.5" y2="1717" stroke="#2b2b2b" stroke-width="6"/>
<line x1="753.8" y1="1690" x2="753.8" y2="1707" stroke="#2b2b2b" stroke-width="6"/>
<line x1="899.5" y1="1690" x2="899.5" y2="1717" stroke="#2b2b2b" stroke-width="6"/>
<line x1="1044.0" y1="1690" x2="1044.0" y2="1707" stroke="#2b2b2b" stroke-width="6"/>
<line x1="1188.4" y1="1690" x2="1188.4" y2="1717" stroke="#2b2b2b" stroke-width="6"/>
<line x1="1335.5" y1="1690" x2="1335.5" y2="1707" stroke="#2b2b2b" stroke-width="6"/>
<line x1="1479.0" y1="1690" x2="1479.0" y2="1717" stroke="#2b2b2b" stroke-width="6"/>
<text class="tk" x="16.5" y="1766.0" font-size="50.5" textLength="31.5" lengthAdjust="spacingAndGlyphs" fill="#262626">0</text>
<text class="tk" x="276.5" y="1766.0" font-size="50.5" textLength="88.8" lengthAdjust="spacingAndGlyphs" fill="#262626">200</text>
<text class="tk" x="570.0" y="1766.0" font-size="50.5" textLength="81.6" lengthAdjust="spacingAndGlyphs" fill="#262626">400</text>
<text class="tk" x="857.0" y="1766.0" font-size="50.5" textLength="86.3" lengthAdjust="spacingAndGlyphs" fill="#262626">600</text>
<text class="tk" x="1149.0" y="1766.0" font-size="50.5" textLength="82.7" lengthAdjust="spacingAndGlyphs" fill="#262626">800</text>
<text class="tk" x="1425.0" y="1766.0" font-size="50.5" textLength="108.8" lengthAdjust="spacingAndGlyphs" fill="#262626">1000</text>
<text class="pk" x="257.5" y="195.0" font-size="60.5" textLength="118.0" lengthAdjust="spacingAndGlyphs" fill="#1c1c1c">190</text>
<text class="pk" x="583.0" y="177.0" font-size="60.5" textLength="118.5" lengthAdjust="spacingAndGlyphs" fill="#1c1c1c">410</text>
<text class="pk" x="832.0" y="177.5" font-size="60.5" textLength="119.7" lengthAdjust="spacingAndGlyphs" fill="#1c1c1c">590</text>
<text class="pk" x="966.5" y="180.5" font-size="60.5" textLength="115.0" lengthAdjust="spacingAndGlyphs" fill="#1c1c1c">670</text>
<text class="pk" x="1133.5" y="180.5" font-size="60.5" textLength="116.5" lengthAdjust="spacingAndGlyphs" fill="#1c1c1c">800</text>
<text class="lg" x="1522.0" y="353.0" font-size="54.98" textLength="258.3" lengthAdjust="spacingAndGlyphs" fill="#0000ff">NiFe(0:1)</text>
<text class="lg" x="1537.0" y="534.5" font-size="58.0" textLength="270.3" lengthAdjust="spacingAndGlyphs" fill="#007400">NiFe(1:2)</text>
<text class="lg" x="1536.0" y="937.5" font-size="60.42" textLength="270.3" lengthAdjust="spacingAndGlyphs" fill="#ff0000">NiFe(1:1)</text>
<text class="lg" x="1536.0" y="1337.0" font-size="57.07" textLength="271.3" lengthAdjust="spacingAndGlyphs" fill="#820a7c">NiFe(2:1)</text>
<text class="lg" x="1553.0" y="1584.0" font-size="54.62" textLength="260.8" lengthAdjust="spacingAndGlyphs" fill="#ff00ff">NiFe(1:0)</text>
<text class="lg" x="1529.5" y="1675.0" font-size="58.0" textLength="154.1" lengthAdjust="spacingAndGlyphs" fill="#000000">MgAl</text>
<text class="ti" x="531.0" y="1896.5" font-size="77.83" textLength="653.6" lengthAdjust="spacingAndGlyphs" fill="#000000">Temperature (ºC)</text>
</svg>
</body></html>
